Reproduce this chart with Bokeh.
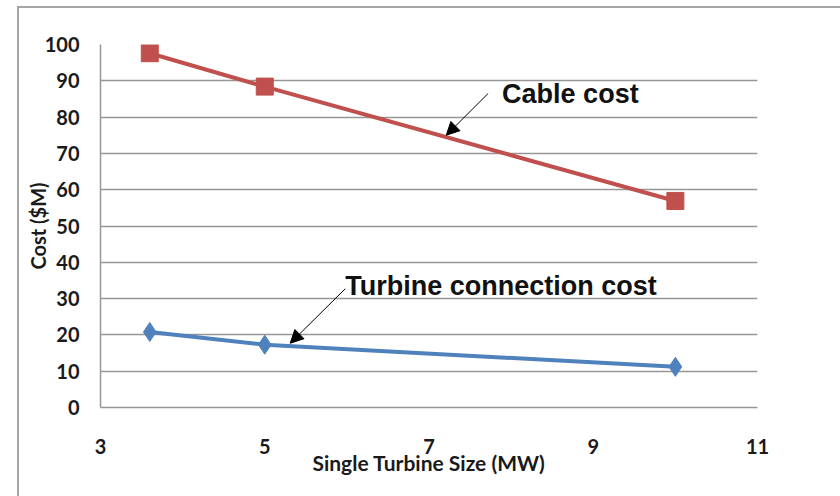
from bokeh.plotting import figure
from bokeh.models import Range1d, FixedTicker, Label, Arrow, NormalHead
from bokeh.embed import file_html
from bokeh.resources import INLINE

# Data
turbine_size = [3.6, 5, 10]
cable_cost = [97.6, 88.4, 56.9]
connection_cost = [20.8, 17.3, 11.2]
x_ticks = [3, 5, 7, 9, 11]
y_ticks = [0, 10, 20, 30, 40, 50, 60, 70, 80, 90, 100]

p = figure(width=840, height=496, output_backend="svg", toolbar_location=None,
           x_range=Range1d(3, 11), y_range=Range1d(0, 100),
           min_border_left=100, min_border_right=83, min_border_top=44, min_border_bottom=89)
p.outline_line_color = None
p.background_fill_color = "white"
p.border_fill_color = None
p.styles = {
    "background-color": "white",
    "box-shadow": "inset 17px 6px 0 0 white, inset 19px 8px 0 0 #a6a6a6",
}

GRID = "#969696"
FONT = "Lato"
for ax in (p.xaxis[0], p.yaxis[0]):
    ax.axis_line_color = GRID
    ax.axis_line_width = 1.5
    ax.major_tick_line_color = None
    ax.minor_tick_line_color = None
    ax.major_label_text_font = FONT
    ax.major_label_text_font_style = "bold"
    ax.major_label_text_font_size = "20px"
    ax.major_label_text_color = "#1a1a1a"
    ax.axis_label_text_font = FONT
    ax.axis_label_text_font_style = "bold"
    ax.axis_label_text_font_size = "20px"
    ax.axis_label_text_color = "#1a1a1a"

p.xaxis.ticker = FixedTicker(ticks=x_ticks)
p.yaxis.ticker = FixedTicker(ticks=y_ticks)
p.xaxis.axis_label = "Single Turbine Size (MW)"
p.xaxis.axis_label_text_font_size = "21px"
p.yaxis.axis_label = "Cost ($M)"
p.yaxis.major_label_standoff = 15
p.yaxis.axis_label_standoff = -8
p.xaxis.major_label_standoff = 25
p.xaxis.axis_label_standoff = -7

p.xgrid.grid_line_color = None
p.ygrid.grid_line_color = GRID
p.ygrid.grid_line_width = 1.5

# Series
p.line(turbine_size, cable_cost, line_color="#c0504d", line_width=4)
p.scatter(turbine_size, cable_cost, marker="square", size=17, fill_color="#c0504d", line_color="#c0504d")
p.line(turbine_size, connection_cost, line_color="#4f81bd", line_width=4)
p.scatter(turbine_size, connection_cost, marker="diamond", size=19, fill_color="#4f81bd", line_color="#4f81bd")

# Annotations
p.add_layout(Arrow(end=NormalHead(size=13, fill_color="black", line_color="black"),
                   x_start=7.72, y_start=86.5, x_end=7.21, y_end=75.0,
                   line_color="black", line_width=1))
p.add_layout(Arrow(end=NormalHead(size=13, fill_color="black", line_color="black"),
                   x_start=5.98, y_start=32.7, x_end=5.31, y_end=17.7,
                   line_color="black", line_width=1))
p.add_layout(Label(x=7.89, y=86.5, text="Cable cost", text_font="Liberation Sans",
                   text_font_style="bold", text_font_size="27px", text_baseline="middle",
                   text_color="#111111"))
p.add_layout(Label(x=5.98, y=33.6, text="Turbine connection cost", text_font="Liberation Sans",
                   text_font_style="bold", text_font_size="27px", text_baseline="middle",
                   text_color="#111111"))

open("out.html", "w").write(file_html(p, INLINE))
